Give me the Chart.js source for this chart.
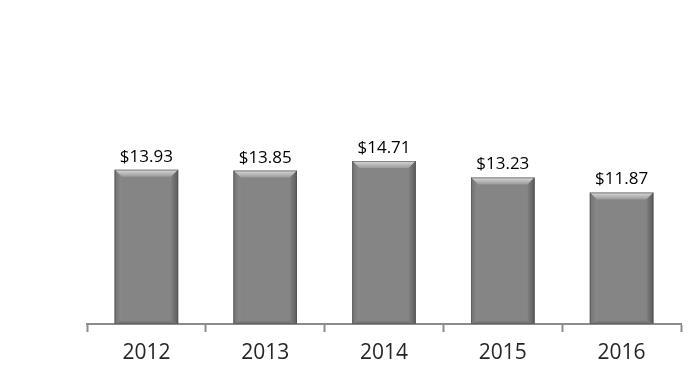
<!DOCTYPE html>
<html>
<head>
<meta charset="utf-8">
<script src="https://cdn.jsdelivr.net/npm/chart.js@4"></script>
<style>
  html, body { margin: 0; padding: 0; background: #fff; }
  #wrap { width: 691px; height: 372px; }
</style>
</head>
<body>
<div id="wrap"><canvas id="priceChart" width="691" height="372"></canvas></div>
<script>
var years = ['2012', '2013', '2014', '2015', '2016'];
var prices = [13.93, 13.85, 14.71, 13.23, 11.87];

// bevelled look for the bars, drawn over each bar element
var bevelBars = {
    id: 'bevelBars',
    afterDatasetsDraw: function(chart) {
        var c = chart.ctx;
        chart.getDatasetMeta(0).data.forEach(function(bar) {
            var l = bar.x - bar.width / 2, r = bar.x + bar.width / 2;
            var t = bar.y, b = bar.base;
            var s = 7, sb = 3;
            c.save();
            // top
            var g = c.createLinearGradient(0, t, 0, t + s);
            g.addColorStop(0, '#dadada');
            g.addColorStop(1, '#9a9a9a');
            c.fillStyle = g;
            c.beginPath();
            c.moveTo(l, t); c.lineTo(r, t); c.lineTo(r - s, t + s); c.lineTo(l + s, t + s);
            c.closePath(); c.fill();
            // left
            g = c.createLinearGradient(l, 0, l + s, 0);
            g.addColorStop(0, '#727272');
            g.addColorStop(1, '#8a8a8a');
            c.fillStyle = g;
            c.beginPath();
            c.moveTo(l, t); c.lineTo(l + s, t + s); c.lineTo(l + s, b - sb); c.lineTo(l, b);
            c.closePath(); c.fill();
            // right
            g = c.createLinearGradient(r, 0, r - s, 0);
            g.addColorStop(0, '#5a5a5a');
            g.addColorStop(1, '#808080');
            c.fillStyle = g;
            c.beginPath();
            c.moveTo(r, t); c.lineTo(r - s, t + s); c.lineTo(r - s, b - sb); c.lineTo(r, b);
            c.closePath(); c.fill();
            // bottom
            c.fillStyle = '#787878';
            c.beginPath();
            c.moveTo(l, b); c.lineTo(l + s, b - sb); c.lineTo(r - s, b - sb); c.lineTo(r, b);
            c.closePath(); c.fill();
            // outline
            c.strokeStyle = 'rgba(80,80,80,0.6)';
            c.lineWidth = 1;
            c.strokeRect(l + 0.5, t + 0.5, r - l - 1, b - t - 1);
            c.restore();
        });
    }
};

// "$xx.xx" above each bar
var valueLabels = {
    id: 'valueLabels',
    afterDatasetsDraw: function(chart) {
        var c = chart.ctx;
        var ds = chart.data.datasets[0];
        c.save();
        c.font = '17px "Open Sans"';
        c.fillStyle = '#000';
        c.textAlign = 'center';
        c.textBaseline = 'alphabetic';
        chart.getDatasetMeta(0).data.forEach(function(bar, i) {
            c.fillText('$' + ds.data[i].toFixed(2), bar.x, bar.y - 8);
        });
        c.restore();
    }
};

var data = {
    labels: years,
    datasets: [
        {
            data: prices,
            backgroundColor: '#858585',
            borderWidth: 0,
            categoryPercentage: 1,
            barPercentage: 0.535
        }
    ]
};

var options = {
    responsive: false,
    animation: false,
    layout: {
        padding: { left: 87, right: 10, top: 47, bottom: 0 }
    },
    plugins: {
        legend: { display: false },
        tooltip: { enabled: false }
    },
    scales: {
        x: {
            grid: {
                offset: true,
                drawOnChartArea: false,
                drawTicks: true,
                tickLength: 8,
                tickColor: '#8c8c8c',
                tickWidth: 2
            },
            border: { display: true, color: '#8c8c8c', width: 2 },
            ticks: {
                color: '#262626',
                font: { family: '"Open Sans"', size: 21 },
                padding: 8
            },
            afterFit: function(scale) { scale.height = 48; }
        },
        y: {
            display: false,
            min: 0,
            max: 25
        }
    }
};

var priceChart = new Chart(document.getElementById('priceChart'), {
    type: 'bar',
    data: data,
    options: options,
    plugins: [bevelBars, valueLabels]
});
</script>
</body>
</html>
